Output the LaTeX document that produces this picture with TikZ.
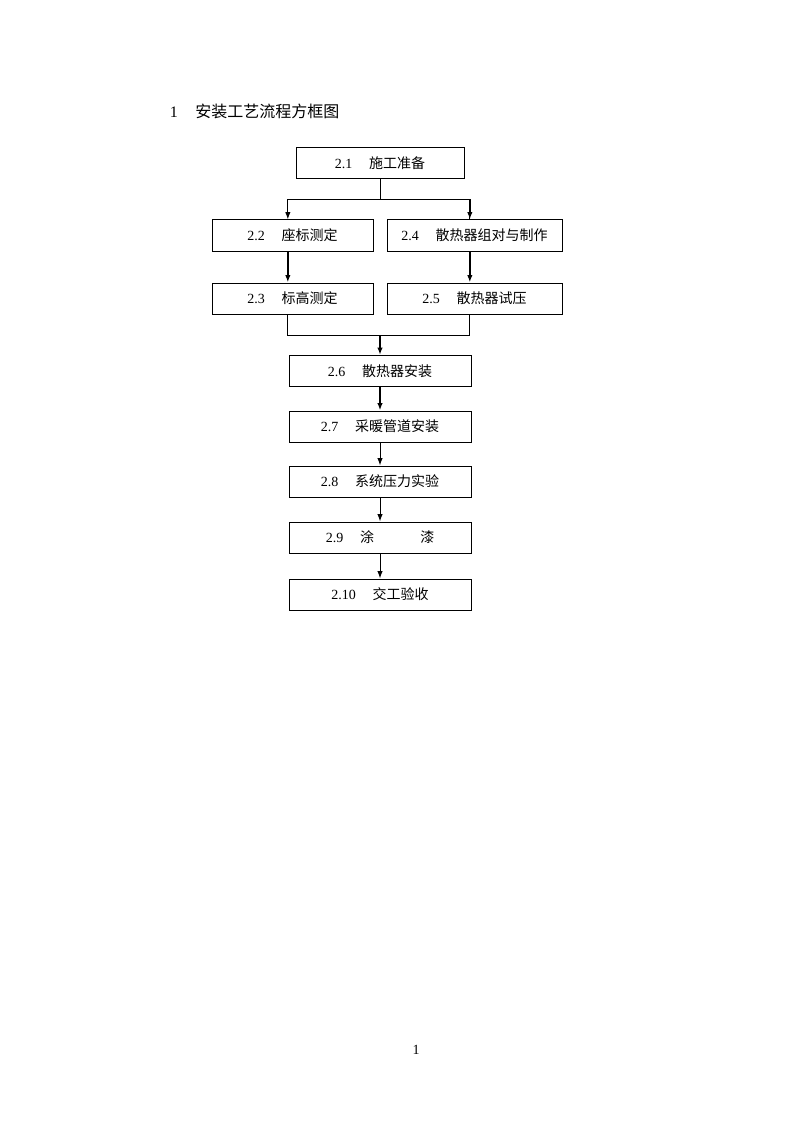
\documentclass[tikz,border=0pt]{standalone}
\usepackage{fontspec}
\setmainfont{Liberation Serif}
\newfontfamily\cjk{Noto Sans CJK SC}
\usetikzlibrary{arrows.meta}
\begin{document}
\begin{tikzpicture}[x=0.75pt,y=-0.75pt,line width=0.75pt,
  every node/.style={font=\fontsize{10.5}{12}\selectfont,inner sep=1pt},
  stepbox/.style={draw,minimum height=31*0.75pt,anchor=center},
  wide/.style={stepbox,minimum width=161*0.75pt},
  wider/.style={stepbox,minimum width=175*0.75pt},
  mid/.style={stepbox,minimum width=182*0.75pt},
  arr/.style={-{Latex[length=5.5pt,width=4pt]}},
  heavy/.style={arr,line width=1.5pt}]
\useasboundingbox (0,0) rectangle (794,1123);
\node[anchor=west,font=\fontsize{12}{14}\selectfont] (title) at (168,111) {1\hspace{1.1em}{\cjk 安装工艺流程方框图}};
\node[stepbox,minimum width=168*0.75pt] (n21) at (380,163.5) {2.1\hspace{1.2em}{\cjk 施工准备}};
\node[wide] (n22) at (292.5,235.5) {2.2\hspace{1.2em}{\cjk 座标测定}};
\node[wider] (n24) at (474.5,235.5) {2.4\hspace{1.2em}{\cjk 散热器组对与制作}};
\node[wide] (n23) at (292.5,298.5) {2.3\hspace{1.2em}{\cjk 标高测定}};
\node[wider] (n25) at (474.5,298.5) {2.5\hspace{1.2em}{\cjk 散热器试压}};
\node[mid] (n26) at (380,371) {2.6\hspace{1.2em}{\cjk 散热器安装}};
\node[mid] (n27) at (380,426.5) {2.7\hspace{1.2em}{\cjk 采暖管道安装}};
\node[mid] (n28) at (380,481.5) {2.8\hspace{1.2em}{\cjk 系统压力实验}};
\node[mid] (n29) at (380,537.5) {2.9\hspace{1.2em}{\cjk 涂\hspace{3.3em}漆}};
\node[mid] (n210) at (380,594.5) {2.10\hspace{1.2em}{\cjk 交工验收}};
\node (page) at (416,1050) {1};
% split after 2.1
\draw (n21.south) -- ++(0,20) coordinate (split);
\draw[arr] (split) -| ([xshift=-3.5]n22.north);
\draw (split) -| ([xshift=-3.5]n24.north) coordinate (r);
\draw[heavy] (split -| r) -- (r);
\draw[heavy] ([xshift=-3.5]n22.south) -- ([xshift=-3.5]n23.north);
\draw[heavy] ([xshift=-3.5]n24.south) -- ([xshift=-3.5]n25.north);
% join before 2.6
\draw ([xshift=-3.5]n23.south) |- ++(0,21) coordinate (join) -| ([xshift=-3.5]n25.south);
\draw[heavy] (join -| n26.north) -- (n26.north);
\draw[heavy] (n26) -- (n27);
\draw[arr] (n27) -- (n28);
\draw[arr] (n28) -- (n29);
\draw[arr] (n29) -- (n210);
\end{tikzpicture}
\end{document}
